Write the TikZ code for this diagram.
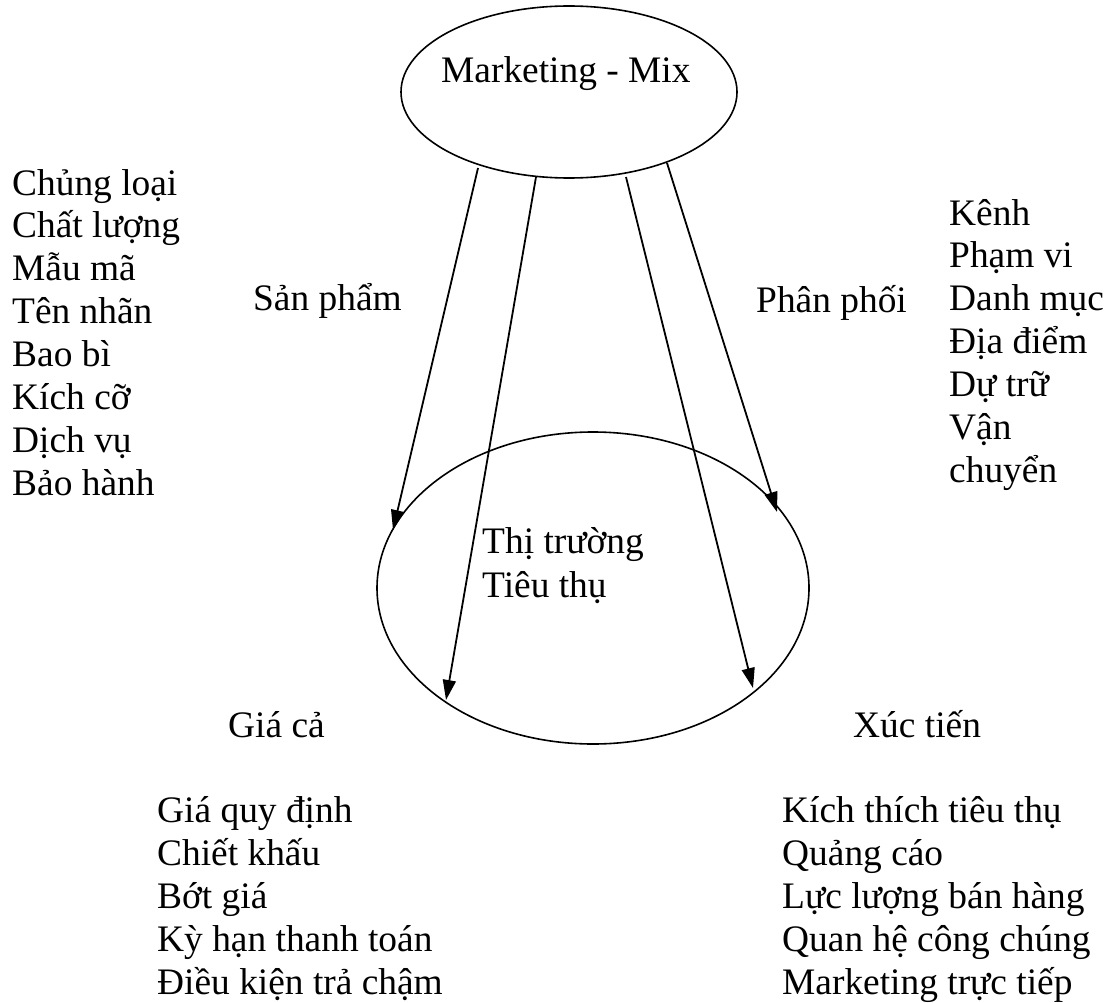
\documentclass[tikz,border=0pt]{standalone}
\usepackage{fontspec}
\setmainfont{Liberation Serif}
\usetikzlibrary{shapes.geometric,arrows.meta}
\begin{document}
\begin{tikzpicture}[x=1pt,y=-1pt,
  every node/.style={font=\fontsize{37.4}{43}\selectfont},
  txt/.style={anchor=base west,inner sep=0pt},
  oval/.style={draw,ellipse,line width=1.6pt,inner sep=0pt},
  arr/.style={line width=1.8pt,-{Triangle[length=20pt,width=13pt]}}]
\useasboundingbox[fill=white] (0,0) rectangle (1110,1003);

% ovals
\node[oval,minimum width=336pt,minimum height=172pt] (mix) at (569,92) {};
\node[oval,minimum width=432pt,minimum height=312pt] (market) at (593,588) {};

% captions inside the ovals
\node[txt] (mixlabel) at (441,83) {Marketing - Mix};
\node[txt] (mk1) at (482,553) {Thị trường};
\node[txt] (mk2) at (482,597) {Tiêu thụ};

% arrow ends
\coordinate (s1) at (478,168);
\coordinate (e1) at (393,530);
\coordinate (s2) at (536,177);
\coordinate (e2) at (446,700);
\coordinate (s3) at (626,177);
\coordinate (e3) at (753,688);
\coordinate (s4) at (667,163);
\coordinate (e4) at (777,512);
\draw[arr] (s1) -- (e1);
\draw[arr] (s2) -- (e2);
\draw[arr] (s3) -- (e3);
\draw[arr] (s4) -- (e4);

% the four P labels
\node[txt] (sp) at (253,310) {Sản phẩm};
\node[txt] (pp) at (756,312) {Phân phối};
\node[txt] (gc) at (228,737) {Giá cả};
\node[txt] (xt) at (853,737) {Xúc tiến};

% product items
\foreach \t [count=\i] in {Chủng loại,Chất lượng,Mẫu mã,Tên nhãn,Bao bì,Kích cỡ,Dịch vụ,Bảo hành}
  \node[txt] (spi\i) at (12,{195+(\i-1)*42.9}) {\t};

% distribution items
\foreach \t [count=\i] in {Kênh,Phạm vi,Danh mục,Địa điểm,Dự trữ,Vận,chuyển}
  \node[txt] (ppi\i) at (949,{225+(\i-1)*42.9}) {\t};

% price items
\foreach \t [count=\i] in {Giá quy định,Chiết khấu,Bớt giá,Kỳ hạn thanh toán,Điều kiện trả chậm}
  \node[txt] (gci\i) at (157,{822+(\i-1)*43.2}) {\t};

% promotion items
\foreach \t [count=\i] in {Kích thích tiêu thụ,Quảng cáo,Lực lượng bán hàng,Quan hệ công chúng,Marketing trực tiếp}
  \node[txt] (xti\i) at (782,{822+(\i-1)*43.2}) {\t};
\end{tikzpicture}
\end{document}
